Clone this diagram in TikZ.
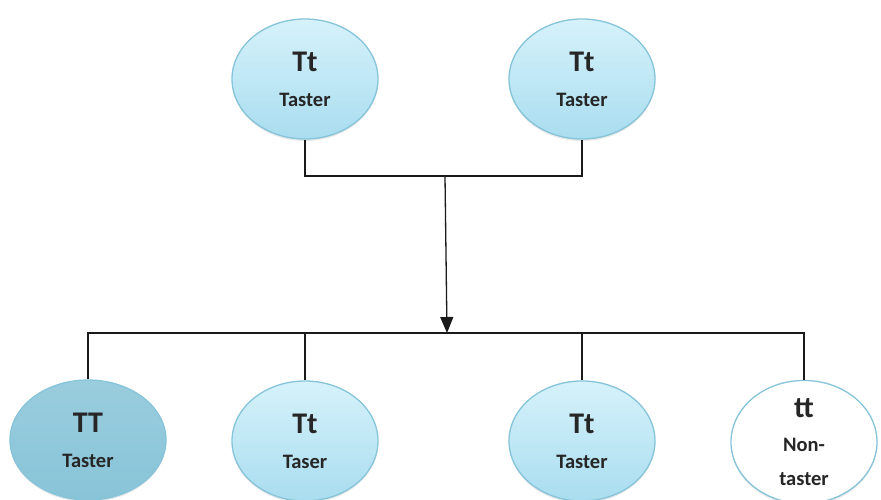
\documentclass[tikz,border=0pt]{standalone}
\usepackage{fontspec}
\setmainfont{Carlito}
\usetikzlibrary{arrows.meta,shapes.geometric,shadows}

\definecolor{rimblue}{HTML}{86C4D9}
\definecolor{palecyan}{HTML}{D6F2FB}
\definecolor{midcyan}{HTML}{A9DDEF}
\definecolor{deepcyan}{HTML}{88C4D8}
\definecolor{inkline}{HTML}{1A1A1A}

\tikzset{
  person/.style={ellipse, draw=rimblue, line width=1.3pt, inner sep=0pt,
    minimum width=146pt, minimum height=120pt, align=center,
    top color=palecyan, bottom color=midcyan, text=black!85,
    font=\fontsize{20.5}{35}\selectfont\bfseries,
    drop shadow={opacity=0.18, shadow xshift=0pt, shadow yshift=-2pt}},
  dominant/.style={person, top color=deepcyan!85, bottom color=deepcyan,
    minimum width=156pt},
  recessive/.style={person, top color=white, bottom color=white},
  wire/.style={draw=inkline, line width=1.3pt},
  drop/.style={wire, -{Triangle[width=13pt,length=16pt]}}
}

% genotype in large type, phenotype below it
\newcommand{\gtype}[1]{{\fontsize{30}{35}\selectfont #1}}

\begin{document}
\begin{tikzpicture}[x=1pt,y=-1pt]
  \useasboundingbox (0,0) rectangle (881,500);

  % parents
  \node[person] (p1) at (305,79) {\gtype{Tt}\\Taster};
  \node[person] (p2) at (582,79) {\gtype{Tt}\\Taster};

  % offspring
  \node[dominant]  (c1) at (88,440)  {\gtype{TT}\\Taster};
  \node[person]    (c2) at (305,441) {\gtype{Tt}\\Taser};
  \node[person]    (c3) at (582,441) {\gtype{Tt}\\Taster};
  \node[recessive, font=\fontsize{20.5}{34}\selectfont\bfseries] (c4) at (804,442) {\gtype{tt}\\Non-\\taster};

  \coordinate (join) at (445,176);
  \coordinate (bus)  at (447,333);

  % parent bracket
  \draw[wire] (p1.south) |- (join) -| (p2.south);
  % descent arrow
  \draw[drop] (join) -- (bus);
  % offspring bus and drops
  \draw[wire] (c1.north) |- (bus) -| (c4.north);
  \draw[wire] (bus) -| (c2.north);
  \draw[wire] (bus) -| (c3.north);
\end{tikzpicture}
\end{document}
